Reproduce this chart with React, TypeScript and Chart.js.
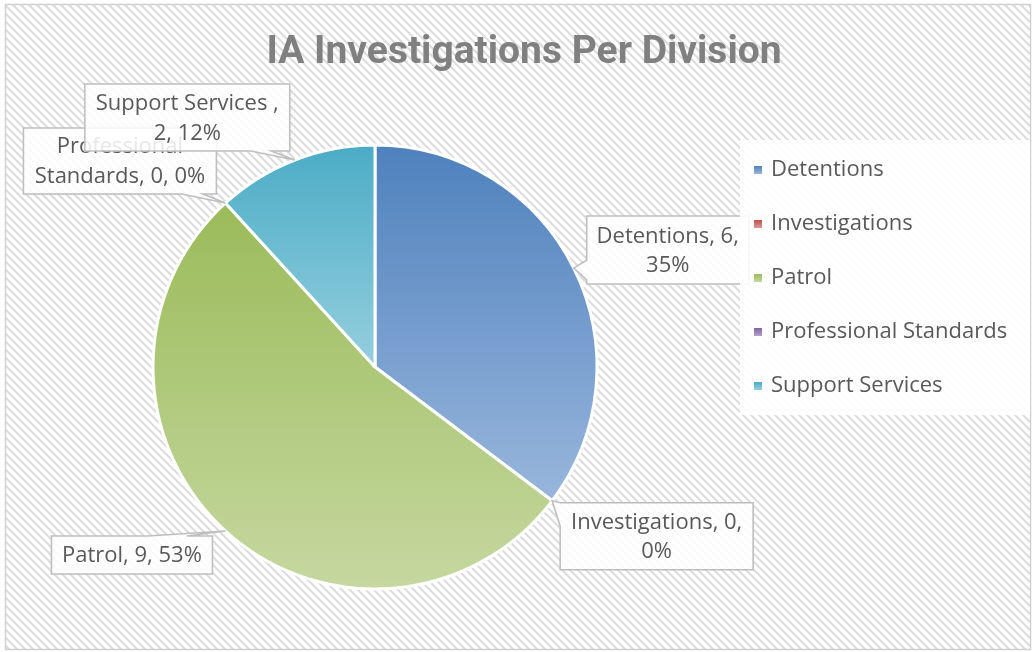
import React, { useEffect, useRef } from "react";
import { Chart, registerables } from "chart.js";

Chart.register(...registerables);

// ---- data ----
const categories = ["Detentions", "Investigations", "Patrol", "Professional Standards", "Support Services "];
const values = [6, 0, 9, 0, 2];
const topColors = ["#4F81BD", "#C0504D", "#9BBB59", "#8064A2", "#4BACC6"];
const bottomColors = ["#98B6DC", "#DA9896", "#C5D8A0", "#B4A3C8", "#95CFDE"];
const titleText = "IA Investigations Per Division";

// ---- layout / style ----
const W = 1034;
const H = 652;
const RADIUS = 222;
const FONT = "'Open Sans', 'Noto Sans', sans-serif";
const TITLE_FONT = "Roboto, 'Open Sans', sans-serif";
const TEXT_COLOR = "#595959";
const TEXT_SIZE = 22;

// callout boxes, positioned relative to the slice's leader tip
const callouts = [
  { dx: 13, dy: -52, w: 162, h: 68, side: "left", b0: 0.65, b1: 0.94 },
  { dx: 8, dy: 2, w: 193, h: 67, side: "left", b0: 0.0, b1: 0.35 },
  { dx: -174, dy: 5, w: 161, h: 38, side: "top", b0: 0.6, b1: 0.84 },
  { dx: -202, dy: -75, w: 193, h: 66, side: "bottom", b0: 0.82, b1: 0.93 },
  { dx: -210, dy: -76, w: 205, h: 67, side: "bottom", b0: 0.81, b1: 0.91 },
];

function makeHatch(): CanvasPattern | string {
  const s = 8;
  const c = document.createElement("canvas");
  c.width = s;
  c.height = s;
  const g = c.getContext("2d");
  if (!g) return "#f0f0f0";
  g.fillStyle = "#ffffff";
  g.fillRect(0, 0, s, s);
  g.strokeStyle = "#dcdcdc";
  g.lineWidth = 2;
  g.beginPath();
  g.moveTo(-1, -1);
  g.lineTo(s + 1, s + 1);
  g.moveTo(s - 2, -2);
  g.lineTo(s + 2, 2);
  g.moveTo(-2, s - 2);
  g.lineTo(2, s + 2);
  g.stroke();
  const ctx2 = document.createElement("canvas").getContext("2d");
  const pat = ctx2 ? ctx2.createPattern(c, "repeat") : null;
  return pat || "#f0f0f0";
}

function wrap(ctx: CanvasRenderingContext2D, text: string, maxW: number): string[] {
  const words = text.split(" ");
  const lines: string[] = [];
  let cur = "";
  for (const w of words) {
    const t = cur ? cur + " " + w : w;
    if (cur && ctx.measureText(t).width > maxW) {
      lines.push(cur);
      cur = w;
    } else {
      cur = t;
    }
  }
  if (cur) lines.push(cur);
  return lines;
}

const decorPlugin = {
  id: "decor",
  beforeDraw(chart: any) {
    const ctx: CanvasRenderingContext2D = chart.ctx;
    ctx.save();
    ctx.fillStyle = "#ffffff";
    ctx.fillRect(0, 0, W, H);
    ctx.fillStyle = makeHatch() as any;
    ctx.fillRect(5, 4, 1026, 646);
    ctx.strokeStyle = "#d0d0d0";
    ctx.lineWidth = 1.5;
    ctx.strokeRect(5.5, 4.5, 1025, 645);
    // title
    ctx.fillStyle = "#808080";
    ctx.font = `bold 39px ${TITLE_FONT}`;
    ctx.textAlign = "center";
    ctx.textBaseline = "alphabetic";
    ctx.fillText(titleText, 524, 63);
    ctx.restore();
  },
  afterDatasetsDraw(chart: any) {
    const ctx: CanvasRenderingContext2D = chart.ctx;
    const meta = chart.getDatasetMeta(0);
    const total = values.reduce((a, b) => a + b, 0);
    ctx.save();
    ctx.font = `${TEXT_SIZE}px ${FONT}`;
    meta.data.forEach((arc: any, i: number) => {
      const p = arc.getProps(["x", "y", "startAngle", "endAngle", "outerRadius"], true);
      const mid = (p.startAngle + p.endAngle) / 2;
      const tx = p.x + p.outerRadius * Math.cos(mid);
      const ty = p.y + p.outerRadius * Math.sin(mid);
      const c = callouts[i];
      const x = tx + c.dx;
      const y = ty + c.dy;
      const { w, h } = c;
      ctx.beginPath();
      ctx.moveTo(x, y);
      if (c.side === "top") {
        ctx.lineTo(x + c.b0 * w, y);
        ctx.lineTo(tx, ty);
        ctx.lineTo(x + c.b1 * w, y);
      }
      ctx.lineTo(x + w, y);
      ctx.lineTo(x + w, y + h);
      if (c.side === "bottom") {
        ctx.lineTo(x + c.b1 * w, y + h);
        ctx.lineTo(tx, ty);
        ctx.lineTo(x + c.b0 * w, y + h);
      }
      ctx.lineTo(x, y + h);
      if (c.side === "left") {
        ctx.lineTo(x, y + c.b1 * h);
        ctx.lineTo(tx, ty);
        ctx.lineTo(x, y + c.b0 * h);
      }
      ctx.closePath();
      ctx.fillStyle = "rgba(255,255,255,0.86)";
      ctx.fill();
      ctx.strokeStyle = "#bfbfbf";
      ctx.lineWidth = 1.6;
      ctx.stroke();

      const pct = total ? Math.round((values[i] / total) * 100) : 0;
      const text = `${categories[i]}, ${values[i]}, ${pct}%`;
      const lines = wrap(ctx, text, w - 12);
      ctx.fillStyle = TEXT_COLOR;
      ctx.textAlign = "center";
      ctx.textBaseline = "middle";
      const lh = 29.5;
      const cy = y + h / 2 - ((lines.length - 1) * lh) / 2;
      lines.forEach((ln, k) => ctx.fillText(ln, x + w / 2, cy + k * lh + 1));
    });

    // legend
    ctx.fillStyle = "rgba(255,255,255,0.88)";
    ctx.fillRect(740, 140, 290, 275);
    ctx.font = `${TEXT_SIZE}px ${FONT}`;
    ctx.textAlign = "left";
    ctx.textBaseline = "middle";
    categories.forEach((cat, i) => {
      const yy = 170 + i * 54;
      const g = ctx.createLinearGradient(0, yy - 4, 0, yy + 4);
      g.addColorStop(0, topColors[i]);
      g.addColorStop(1, bottomColors[i]);
      ctx.fillStyle = g;
      ctx.fillRect(754, yy - 4, 8, 8);
      ctx.fillStyle = TEXT_COLOR;
      ctx.fillText(cat, 771, yy);
    });
    ctx.restore();
  },
};

function sliceGradient(ctx: any) {
  const i = ctx.dataIndex;
  if (i === undefined) return topColors[0];
  const chart = ctx.chart;
  const area = chart.chartArea;
  if (!area) return topColors[i];
  const cy = (area.top + area.bottom) / 2;
  const total = values.reduce((a, b) => a + b, 0) || 1;
  let a0 = -Math.PI / 2;
  for (let j = 0; j < i; j++) a0 += (values[j] / total) * Math.PI * 2;
  const a1 = a0 + (values[i] / total) * Math.PI * 2;
  const ys = [cy, cy + RADIUS * Math.sin(a0), cy + RADIUS * Math.sin(a1)];
  for (let k = -2; k <= 3; k++) {
    const up = -Math.PI / 2 + k * 2 * Math.PI;
    const dn = Math.PI / 2 + k * 2 * Math.PI;
    if (up >= a0 && up <= a1) ys.push(cy - RADIUS);
    if (dn >= a0 && dn <= a1) ys.push(cy + RADIUS);
  }
  let y0 = Math.min(...ys);
  let y1 = Math.max(...ys);
  if (y1 - y0 < 1) y1 = y0 + 1;
  const g = chart.ctx.createLinearGradient(0, y0, 0, y1);
  g.addColorStop(0, topColors[i]);
  g.addColorStop(1, bottomColors[i]);
  return g;
}

export default function App() {
  const ref = useRef<HTMLCanvasElement | null>(null);
  useEffect(() => {
    document.body.style.margin = "0";
    const canvas = ref.current;
    if (!canvas) return;
    const chart = new Chart(canvas, {
      type: "pie",
      data: {
        labels: categories,
        datasets: [
          {
            data: values,
            backgroundColor: sliceGradient as any,
            borderColor: "#ffffff",
            borderWidth: 3,
          },
        ],
      },
      options: {
        responsive: false,
        animation: false,
        devicePixelRatio: 1,
        events: [],
        radius: RADIUS,
        layout: { padding: { left: 100, right: 384, top: 120, bottom: 38 } },
        plugins: {
          legend: { display: false },
          title: { display: false },
          tooltip: { enabled: false },
        },
      } as any,
      plugins: [decorPlugin],
    });
    return () => chart.destroy();
  }, []);
  return (
    <div style={{ width: W, height: H }}>
      <canvas ref={ref} width={W} height={H} style={{ display: "block" }} />
    </div>
  );
}
